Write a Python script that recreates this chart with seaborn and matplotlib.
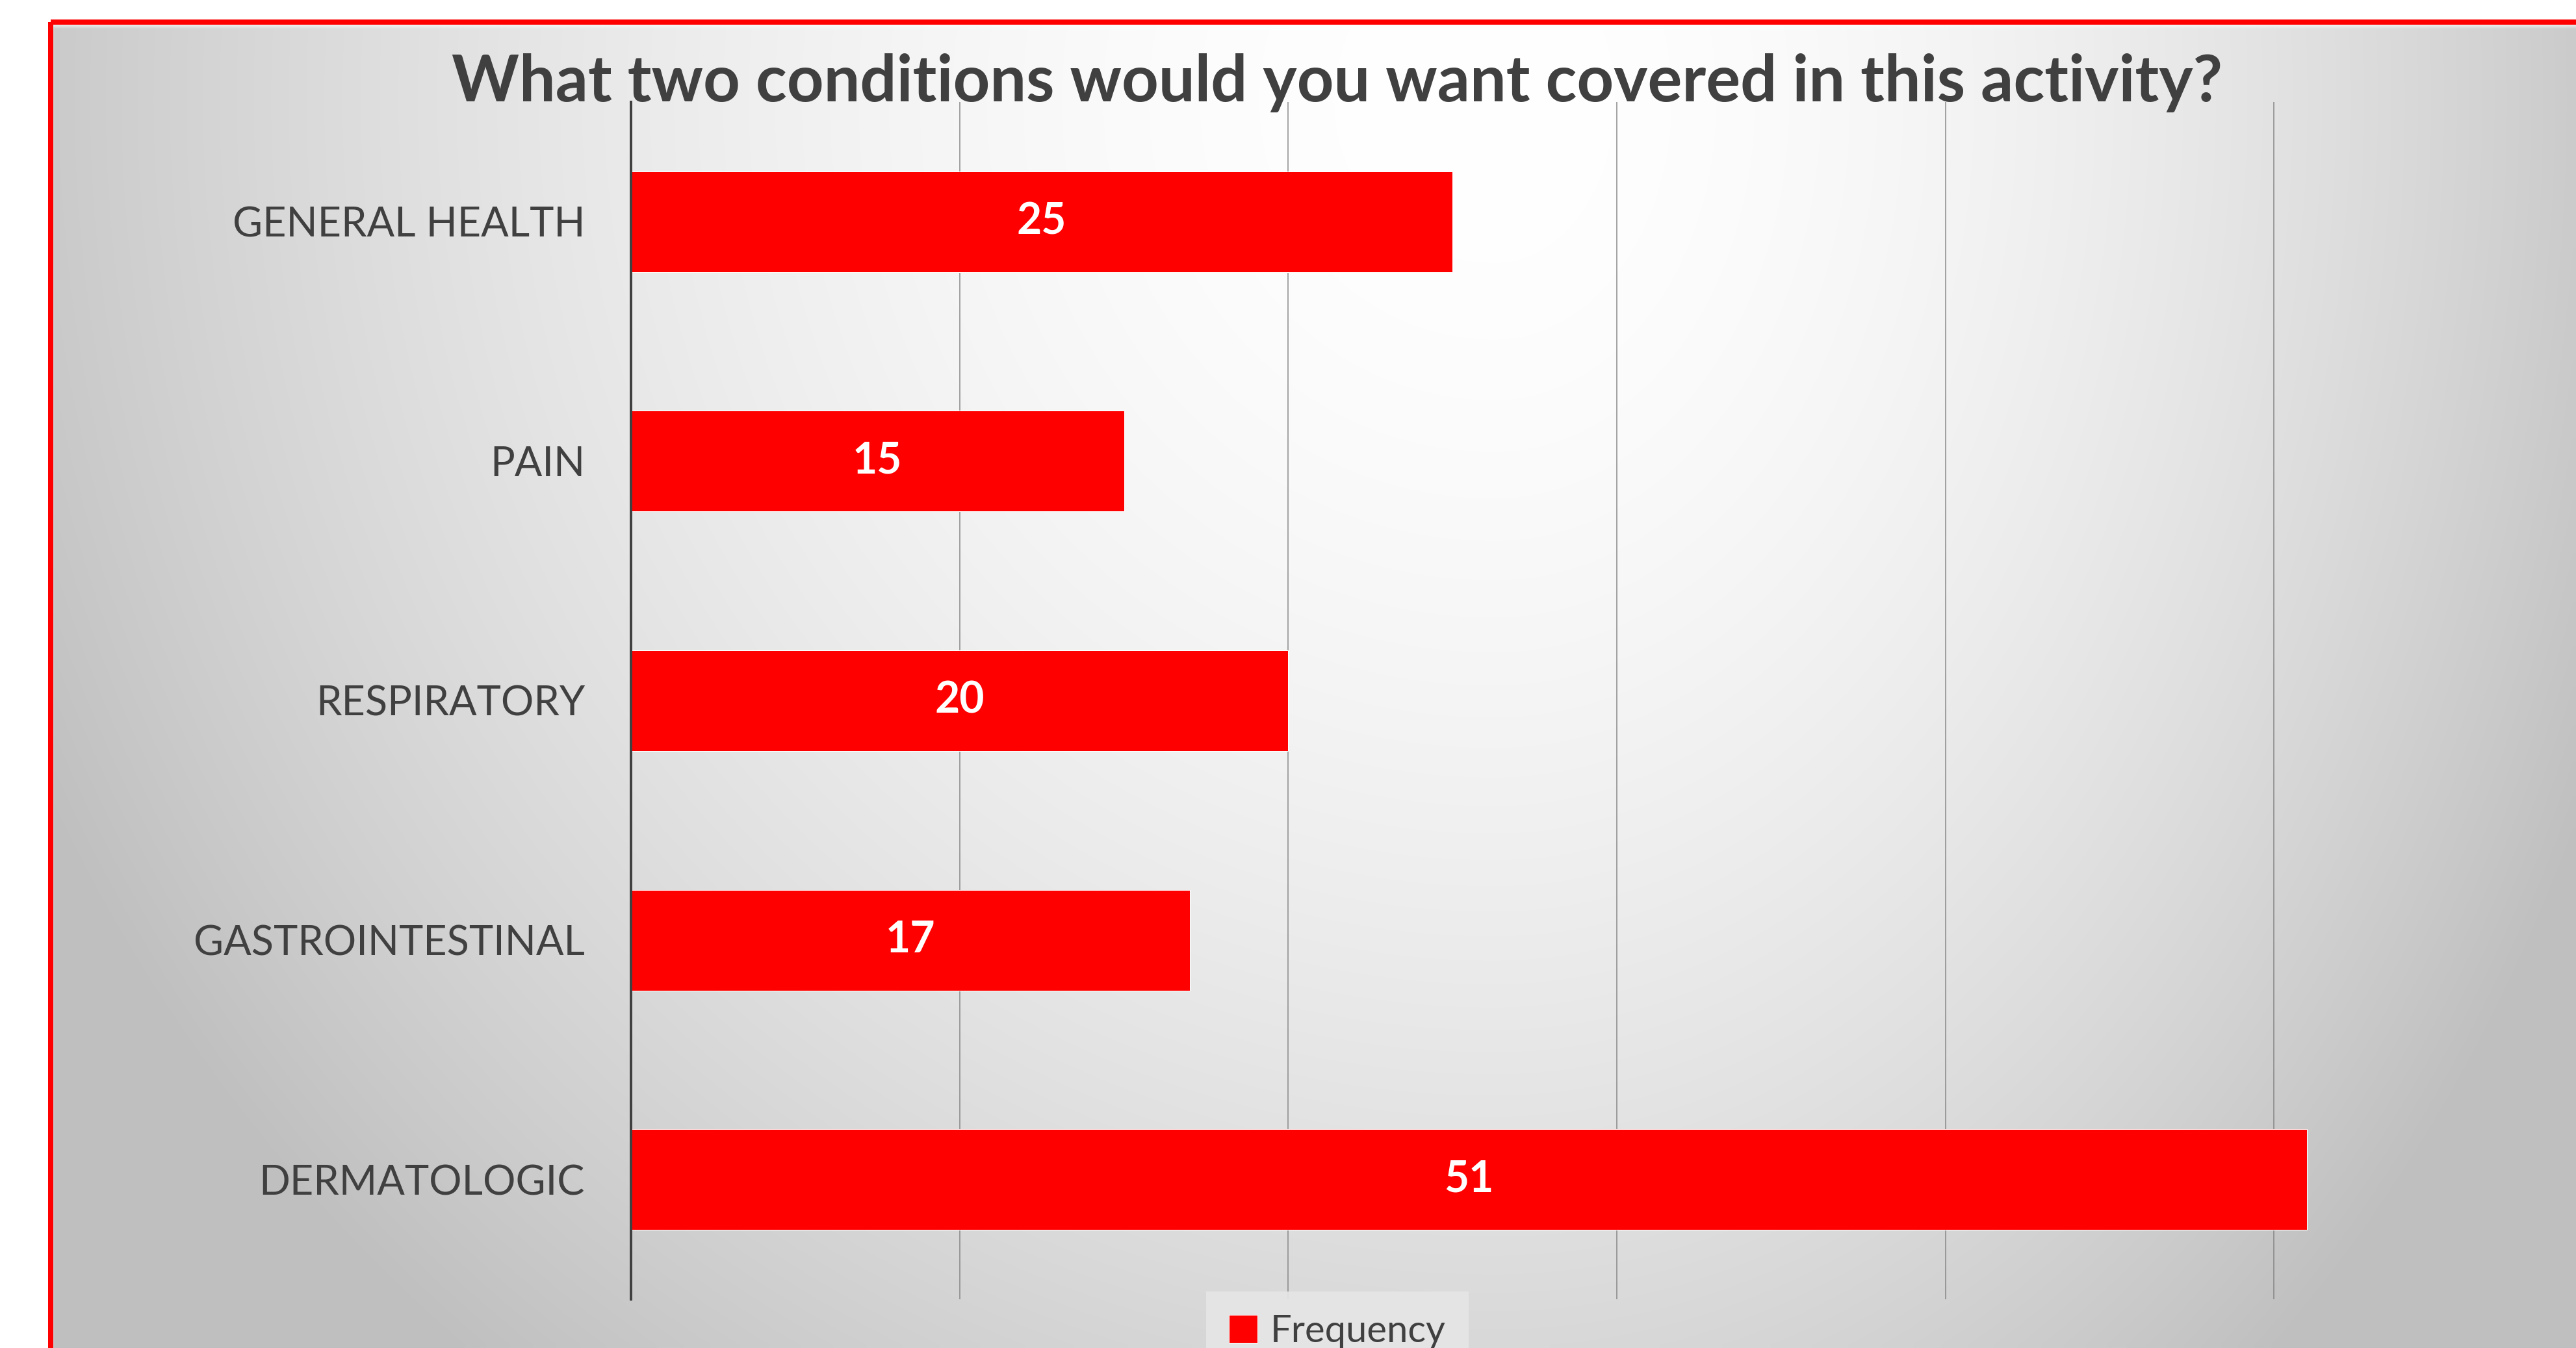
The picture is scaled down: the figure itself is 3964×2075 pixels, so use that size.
import numpy as np
import pandas as pd
import matplotlib
matplotlib.use("Agg")
import matplotlib.pyplot as plt
import seaborn as sns
from matplotlib.patches import Rectangle

categories = ["GENERAL HEALTH", "PAIN", "RESPIRATORY", "GASTROINTESTINAL", "DERMATOLOGIC"]
frequency = [25, 15, 20, 17, 51]
series_name = "Frequency"
title = "What two conditions would you want covered in this activity?"

W, H, DPI = 3964, 2075, 72  # at 72 dpi one point is one pixel

sns.set_style("white")
plt.rcParams["font.family"] = ["Lato", "DejaVu Sans"]

fig = plt.figure(figsize=(W / DPI, H / DPI), dpi=DPI)
fig.patch.set_facecolor("white")

# radial grey background inside the red frame, brightest near the top middle
bg = fig.add_axes([0, 0, 1, 1], zorder=-5)
bx, by = np.meshgrid(np.linspace(0, W, 400), np.linspace(0, H, 210))
cx, cy = 2300, 150
rx = np.where(bx < cx, 2250, 1700)
d = np.sqrt(((bx - cx) / rx) ** 2 + ((by - cy) / 2300) ** 2)
shade = 1 - 0.21 * np.clip(d, 0, 1.1) ** 1.8
shade[(bx < 78) | (by < 34)] = 1.0
bg.imshow(np.dstack([shade] * 3), extent=[0, W, H, 0], aspect="auto", interpolation="bilinear")
bg.set_xlim(0, W)
bg.set_ylim(H, 0)
bg.axis("off")
bg.add_patch(Rectangle((78, 34), W, H, fill=False, edgecolor="#ff0000", linewidth=8))

df = pd.DataFrame({"condition": categories, series_name: frequency})

ax = fig.add_axes([971 / W, 75 / H, 3034 / W, 1843 / H])
ax.patch.set_alpha(0)
sns.barplot(data=df, y="condition", x=series_name, color="#ff0000", width=0.42,
            saturation=1, ax=ax, label=series_name)
ax.set_xlim(0, 60)
ax.set_ylim(4.5, -0.5)
ax.set_xticks(np.arange(0, 61, 10))
ax.set_xticklabels([])
ax.xaxis.grid(True, color="#808080", alpha=0.7, linewidth=2)
ax.set_axisbelow(True)
ax.tick_params(axis="both", length=0)
ax.tick_params(axis="y", pad=71, labelsize=63, labelcolor="#404040")
ax.set_xlabel("")
ax.set_ylabel("")
for side in ["top", "right", "bottom"]:
    ax.spines[side].set_visible(False)
ax.spines["left"].set_color("#404040")
ax.spines["left"].set_linewidth(4)

ax.bar_label(ax.containers[0], label_type="center", color="white",
             fontsize=66, fontweight="bold")

fig.text(2058 / W, 1 - 156 / H, title, ha="center", va="baseline",
         fontsize=99, fontweight="bold", color="#404040")

leg = ax.legend(loc="upper center", bbox_to_anchor=(2058 / W, 1 - 1988 / H),
                bbox_transform=fig.transFigure, borderaxespad=0, frameon=True, fancybox=False,
                fontsize=58, handlelength=0.75, handleheight=0.75, handletextpad=0.35,
                borderpad=0.6, labelcolor="#404040")
leg.get_frame().set_facecolor("#e6e6e6")
leg.get_frame().set_edgecolor("none")
leg.get_frame().set_alpha(0.9)

fig.savefig("out.png", dpi=DPI)
